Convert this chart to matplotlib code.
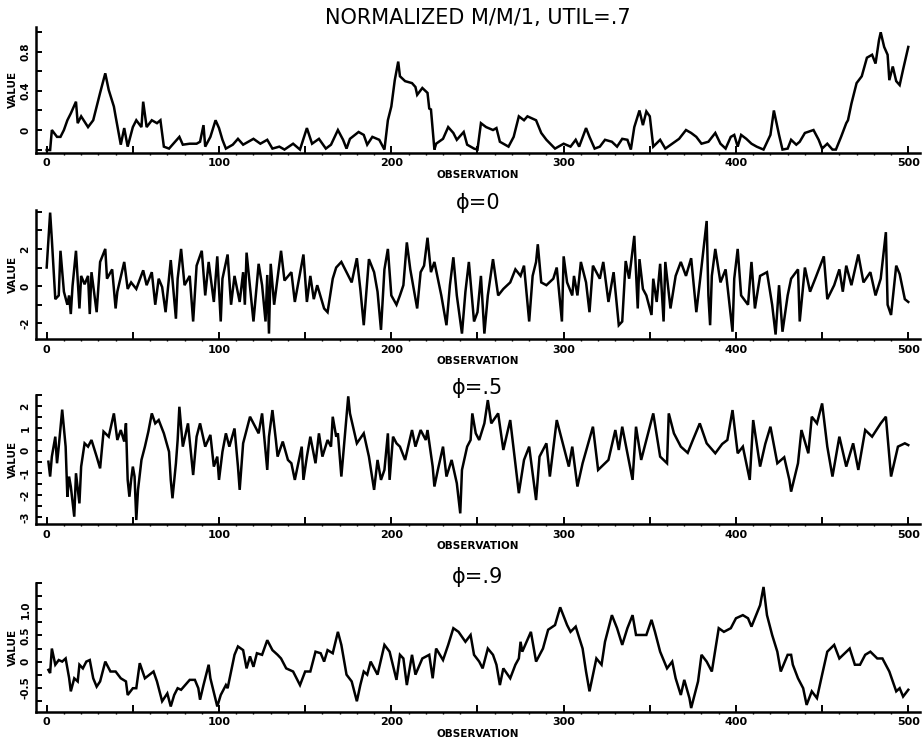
import matplotlib
matplotlib.use("Agg")
import matplotlib.pyplot as plt
from matplotlib.ticker import FixedLocator, FixedFormatter, MultipleLocator

# ---------------- data ----------------
mm1_obs = [0, 2, 3, 6, 8, 10, 12, 14, 17, 18, 20, 24, 27, 31, 34, 36, 39, 40, 42, 43, 45, 47, 50, 52, 55, 56, 58,
           61, 64, 66, 68, 71, 73, 77, 79, 83, 87, 89, 91, 92, 95, 98, 100, 102, 104, 108, 111, 114, 120, 124, 128,
           131, 135, 138, 143, 147, 151, 154, 158, 162, 165, 169, 172, 174, 176, 181, 184, 186, 189, 193, 196, 198,
           200, 202, 204, 205, 208, 212, 214, 215, 218, 221, 222, 223, 225, 226, 230, 233, 236, 238, 242, 244, 248,
           250, 252, 255, 259, 261, 263, 268, 271, 274, 277, 279, 284, 287, 290, 295, 300, 304, 307, 309, 313, 315,
           318, 321, 324, 328, 331, 334, 337, 339, 341, 344, 346, 348, 350, 352, 356, 359, 363, 367, 371, 374, 377,
           380, 384, 388, 391, 394, 397, 399, 401, 403, 406, 409, 412, 416, 420, 422, 425, 427, 430, 432, 435, 437,
           440, 445, 448, 450, 453, 456, 458, 461, 464, 465, 467, 470, 473, 476, 479, 481, 483, 484, 486, 488, 489,
           491, 493, 495, 497, 500]
mm1_val = [-0.205, -0.205, 0.0, -0.07, -0.07, 0.0, 0.10, 0.17, 0.29, 0.07, 0.14, 0.03, 0.10, 0.38, 0.58, 0.41,
           0.24, 0.14, -0.05, -0.15, 0.02, -0.17, 0.03, 0.10, 0.03, 0.29, 0.03, 0.10, 0.07, 0.10, -0.17, -0.19,
           -0.15, -0.07, -0.15, -0.14, -0.14, -0.12, 0.05, -0.17, -0.07, 0.10, 0.02, -0.10, -0.19, -0.15, -0.09,
           -0.15, -0.09, -0.14, -0.10, -0.19, -0.17, -0.20, -0.14, -0.20, 0.02, -0.14, -0.09, -0.19, -0.15, 0.0,
           -0.10, -0.19, -0.09, -0.02, -0.05, -0.15, -0.07, -0.10, -0.20, 0.10, 0.24, 0.51, 0.70, 0.55, 0.50, 0.48,
           0.44, 0.36, 0.43, 0.38, 0.22, 0.21, -0.20, -0.14, -0.09, 0.03, -0.03, -0.10, -0.02, -0.15, -0.19, -0.20,
           0.07, 0.03, 0.0, 0.02, -0.12, -0.17, -0.07, 0.14, 0.10, 0.14, 0.10, -0.03, -0.10, -0.19, -0.14, -0.17,
           -0.10, -0.17, 0.02, -0.07, -0.19, -0.17, -0.10, -0.12, -0.17, -0.09, -0.10, -0.20, 0.03, 0.20, 0.05,
           0.19, 0.14, -0.17, -0.10, -0.19, -0.14, -0.09, 0.0, -0.03, -0.07, -0.14, -0.12, -0.03, -0.14, -0.19,
           -0.07, -0.05, -0.17, -0.05, -0.09, -0.14, -0.17, -0.20, -0.05, 0.20, -0.05, -0.20, -0.19, -0.10, -0.15,
           -0.12, -0.03, 0.0, -0.10, -0.19, -0.14, -0.20, -0.20, -0.07, 0.07, 0.10, 0.27, 0.48, 0.55, 0.74, 0.77,
           0.68, 0.92, 1.0, 0.85, 0.77, 0.51, 0.65, 0.50, 0.46, 0.62, 0.85]

phi0_obs = [0, 2, 3, 5, 7, 8, 10, 12, 13, 14, 15, 17, 19, 20, 22, 24, 25, 26, 29, 31, 34, 35, 38, 40, 41, 45, 47,
            49, 52, 56, 58, 61, 63, 65, 67, 69, 72, 75, 76, 78, 80, 83, 85, 87, 90, 92, 94, 97, 99, 101, 102, 105,
            107, 109, 112, 114, 115, 116, 120, 123, 125, 127, 128, 129, 130, 132, 136, 138, 142, 144, 149, 151, 153,
            155, 157, 161, 163, 166, 168, 171, 174, 177, 180, 182, 184, 187, 190, 192, 194, 196, 198, 200, 203, 205,
            207, 209, 211, 215, 217, 219, 221, 223, 225, 229, 232, 234, 236, 238, 241, 243, 245, 248, 250, 252, 254,
            256, 259, 262, 265, 269, 272, 275, 277, 280, 282, 284, 285, 287, 290, 294, 296, 299, 300, 302, 305, 306,
            308, 310, 313, 315, 317, 319, 321, 323, 326, 329, 332, 334, 336, 338, 341, 342, 343, 344, 346, 348, 351,
            352, 354, 356, 358, 359, 362, 365, 368, 371, 374, 377, 379, 383, 384, 385, 386, 388, 391, 394, 398, 399,
            401, 403, 407, 409, 411, 414, 418, 421, 423, 425, 427, 430, 432, 436, 437, 440, 443, 446, 451, 453, 457,
            460, 462, 464, 467, 471, 474, 478, 481, 484, 487, 488, 490, 493, 495, 498, 500]
phi0_val = [1.0, 3.95, 2.5, -0.7, -0.5, 1.9, -0.3, -1.0, -0.5, -1.5, 0.0, 1.9, -1.2, 0.55, 0.1, 0.55, -1.5, 0.75,
            -1.4, 1.3, 2.0, 0.4, 0.9, -1.2, -0.3, 1.3, -0.15, 0.2, -0.15, 0.85, 0.05, 0.75, -1.0, 0.4, -0.05, -1.4,
            1.4, -1.75, 0.4, 2.0, 0.05, 0.55, -1.9, 1.1, 1.9, -0.5, 1.3, -0.85, 1.6, -1.9, 0.4, 1.7, -1.0, 0.55,
            -0.85, 0.75, -1.0, 1.8, -1.9, 1.2, 0.05, -1.9, 0.6, -2.55, 1.2, -1.0, 1.9, 0.3, 0.75, -0.85, 1.7, -0.85,
            0.55, -0.7, 0.05, -1.2, -1.4, 0.4, 1.0, 1.3, 0.75, 0.2, 1.5, -0.15, -2.1, 1.45, 0.75, -0.3, -2.35, 0.9,
            2.0, -0.5, -1.0, -0.5, 0.05, 2.35, 0.9, -1.2, 0.75, 1.1, 2.6, 0.75, 1.3, -0.5, -2.1, 0.05, 1.55, -0.5,
            -2.55, -0.3, 1.3, -1.9, -1.4, 0.55, -2.55, -0.5, 1.45, -0.5, -0.15, 0.2, 0.9, 0.55, 1.1, -1.9, 0.55,
            1.3, 2.25, 0.2, 0.05, 0.4, 1.0, -1.9, 1.6, 0.2, -0.5, 0.55, -0.5, 1.3, 0.2, -1.4, 1.1, 0.75, 0.4, 1.3,
            -0.85, 0.75, -2.1, -1.9, 1.35, 0.4, 2.7, 0.75, -1.2, 1.45, -0.15, -0.5, -1.55, 0.4, -0.85, 1.2, -1.9,
            1.3, -1.2, 0.55, 1.3, 0.55, 1.5, -1.4, 0.2, 3.5, -0.5, -2.1, 0.55, 2.0, 0.2, 0.9, -2.45, 0.4, 2.0, -0.5,
            -1.0, 1.3, -1.2, 0.55, 0.75, -1.0, -2.6, 0.05, -2.45, -0.5, 0.4, 0.9, -1.9, 1.0, -0.3, 0.4, 1.6, -0.7,
            0.05, 0.9, -0.3, 1.1, 0.05, 1.7, 0.2, 0.75, -0.5, 0.4, 2.9, -1.0, -1.55, 1.1, 0.65, -0.7, -0.85]

phi5_obs = [1, 2, 3, 5, 6, 7, 9, 11, 12, 13, 14, 16, 17, 19, 20, 22, 24, 26, 29, 31, 33, 36, 39, 41, 43, 45, 46,
            47, 48, 49, 50, 51, 52, 53, 55, 57, 59, 61, 63, 65, 68, 71, 72, 73, 75, 76, 77, 79, 82, 85, 87, 89, 92,
            95, 97, 99, 100, 102, 104, 106, 109, 111, 112, 114, 116, 118, 120, 123, 125, 128, 129, 131, 133, 134,
            137, 140, 142, 144, 148, 149, 151, 153, 156, 158, 160, 163, 165, 166, 168, 169, 171, 175, 176, 180, 184,
            187, 190, 192, 194, 196, 198, 199, 201, 203, 205, 208, 212, 214, 217, 220, 221, 224, 225, 227, 230, 232,
            235, 238, 240, 241, 244, 246, 247, 249, 251, 254, 256, 258, 262, 265, 269, 274, 277, 280, 284, 286, 290,
            292, 296, 300, 303, 305, 308, 311, 317, 320, 324, 326, 330, 332, 334, 340, 342, 345, 352, 356, 360, 361,
            364, 368, 372, 375, 379, 383, 388, 392, 395, 398, 401, 404, 408, 410, 414, 417, 420, 424, 428, 431, 432,
            436, 438, 442, 444, 447, 450, 453, 456, 460, 464, 468, 471, 475, 479, 484, 487, 490, 494, 498, 500]
phi5_val = [-0.5, -1.17, -0.27, 0.63, -0.57, 0.18, 1.85, 0.18, -2.08, -1.17, -1.62, -2.98, -1.02, -2.38, -0.72,
            0.33, 0.18, 0.48, -0.27, -0.8, 0.86, 0.63, 1.68, 0.48, 0.93, 0.41, 1.23, -1.32, -2.08, -1.32, -0.72,
            -1.17, -3.13, -1.77, -0.42, 0.18, 0.86, 1.68, 1.23, 1.38, 0.78, -0.05, -1.32, -2.15, -0.57, 0.48, 1.98,
            0.18, 1.23, -1.1, 0.63, 1.23, 0.18, 0.71, -0.72, -0.27, -1.32, -0.05, 0.78, 0.18, 1.0, -0.72, -1.77,
            0.33, 0.93, 1.53, 1.23, 0.78, 1.68, -0.87, 0.63, 1.83, 0.48, -0.27, 0.41, -0.42, -0.57, -1.32, 0.18,
            -1.32, -0.27, 0.63, -0.57, 0.78, -0.27, 0.48, 0.18, 1.53, 0.63, 0.78, -1.17, 2.45, 1.68, 0.33, 0.78,
            -0.27, -1.77, -0.42, -1.32, -0.87, 0.78, -1.32, 0.63, 0.33, 0.18, -0.42, 0.93, 0.18, 0.93, 0.48, 0.93,
            -0.72, -1.62, -0.87, 0.18, -1.17, -0.42, -1.47, -2.83, -0.87, 0.18, 0.48, 1.68, 0.78, 0.48, 1.23, 2.28,
            1.23, 1.68, 0.03, 1.38, -1.92, -0.42, 0.18, -2.23, -0.27, 0.33, -1.17, 1.38, 0.18, -0.72, 0.18, -1.62,
            -0.57, 1.08, -0.87, -0.57, -0.42, 0.93, 0.03, 1.08, -1.32, 1.08, -0.42, 1.68, -0.27, -0.57, 1.68, 0.78,
            0.18, -0.1, 0.48, 1.23, 0.33, -0.12, 0.3, 0.48, 1.83, -0.12, 0.18, -1.32, 1.38, -0.72, 0.3, 1.08, -0.57,
            -0.3, -1.32, -1.85, -0.57, 0.93, -0.12, 1.53, 1.23, 2.13, 0.18, -1.17, 0.63, -0.72, 0.33, -0.87, 0.93,
            0.63, 1.23, 1.53, -1.17, 0.18, 0.33, 0.25]

phi9_obs = [1, 2, 3, 5, 7, 9, 11, 13, 14, 16, 18, 19, 21, 23, 25, 27, 29, 31, 34, 37, 40, 43, 46, 47, 50, 52, 54,
            57, 62, 64, 67, 70, 72, 74, 76, 78, 83, 86, 88, 89, 91, 94, 95, 99, 101, 104, 105, 107, 109, 111, 114,
            116, 118, 120, 122, 125, 128, 131, 134, 136, 139, 143, 147, 150, 153, 156, 159, 161, 163, 166, 169, 171,
            174, 177, 180, 182, 184, 186, 188, 192, 196, 199, 203, 205, 207, 209, 212, 214, 218, 222, 224, 226, 230,
            233, 236, 239, 243, 246, 248, 251, 253, 256, 259, 261, 263, 265, 269, 272, 274, 275, 276, 281, 284, 288,
            291, 295, 298, 302, 304, 307, 311, 313, 315, 317, 319, 322, 324, 328, 331, 334, 337, 340, 342, 348, 351,
            353, 356, 360, 363, 365, 368, 370, 373, 374, 378, 380, 383, 386, 390, 393, 397, 400, 404, 407, 409, 414,
            416, 418, 421, 424, 426, 430, 432, 433, 436, 439, 441, 444, 447, 450, 453, 457, 460, 466, 469, 472, 475,
            478, 482, 485, 489, 491, 493, 495, 497, 500]
phi9_val = [-0.16, -0.22, 0.25, -0.06, 0.03, 0.0, 0.06, -0.31, -0.57, -0.32, -0.38, -0.06, -0.13, 0.0, 0.03,
            -0.32, -0.48, -0.38, 0.0, -0.19, -0.19, -0.32, -0.38, -0.64, -0.51, -0.51, -0.03, -0.32, -0.19, -0.38,
            -0.76, -0.61, -0.86, -0.64, -0.51, -0.54, -0.35, -0.35, -0.51, -0.73, -0.45, -0.06, -0.32, -0.86, -0.64,
            -0.45, -0.51, -0.19, 0.13, 0.29, 0.22, -0.13, 0.1, -0.1, 0.16, 0.13, 0.41, 0.22, 0.13, 0.06, -0.13,
            -0.19, -0.45, -0.19, -0.19, 0.19, 0.16, 0.0, 0.22, 0.16, 0.57, 0.32, -0.25, -0.38, -0.76, -0.45, -0.19,
            -0.25, 0.0, -0.25, 0.32, 0.19, -0.35, 0.13, 0.06, -0.45, 0.13, -0.25, 0.06, 0.13, -0.32, 0.25, 0.03,
            0.32, 0.64, 0.57, 0.38, 0.51, 0.13, 0.0, -0.13, 0.25, 0.13, -0.06, -0.45, -0.13, -0.32, -0.06, 0.06,
            0.38, 0.19, 0.57, 0.0, 0.25, 0.61, 0.70, 1.04, 0.70, 0.57, 0.67, 0.25, -0.19, -0.57, -0.25, 0.06, -0.06,
            0.38, 0.89, 0.64, 0.32, 0.64, 0.89, 0.51, 0.51, 0.80, 0.57, 0.19, -0.13, 0.0, -0.32, -0.64, -0.35,
            -0.70, -0.89, -0.38, 0.13, 0.0, -0.19, 0.64, 0.57, 0.64, 0.83, 0.89, 0.83, 0.67, 1.08, 1.43, 0.89, 0.51,
            0.19, -0.19, 0.13, 0.13, -0.06, -0.32, -0.51, -0.83, -0.57, -0.70, -0.25, 0.19, 0.32, 0.06, 0.25, -0.06,
            -0.06, 0.13, 0.19, 0.06, 0.06, -0.19, -0.38, -0.57, -0.51, -0.67, -0.54]

titles = ["NORMALIZED M/M/1, UTIL=.7", "\u03d5=0", "\u03d5=.5", "\u03d5=.9"]
x_label = "OBSERVATION"
y_label = "VALUE"
y_tick_pos = [[-0.2, 0.0, 0.2, 0.4, 0.6, 0.8, 1.0],
              [-2, -1, 0, 1, 2, 3, 4],
              [-3, -2.5, -2, -1.5, -1, -0.5, 0, 0.5, 1, 1.5, 2, 2.5],
              [-0.75, -0.5, -0.25, 0, 0.25, 0.5, 0.75, 1.0, 1.25, 1.5]]
y_tick_lab = [["", "0", "", "0.4", "", "0.8", ""],
              ["-2", "", "0", "", "2", "", ""],
              ["-3", "", "-2", "", "-1", "", "0", "", "1", "", "2", ""],
              ["", "-0.5", "", "0", "", "0.5", "", "1.0", "", ""]]
y_lims = [(-0.232, 1.054), (-2.84, 4.09), (-3.31, 2.51), (-0.96, 1.5)]

series = [(mm1_obs, mm1_val), (phi0_obs, phi0_val), (phi5_obs, phi5_val), (phi9_obs, phi9_val)]

# ---------------- layout (pixel geometry) ----------------
W, H = 924, 743
fig = plt.figure(figsize=(W / 100, H / 100), dpi=100)
panel_px = [(27, 152.7), (210, 339), (395, 524), (583.3, 711.7)]
title_y = [18, 203, 388, 577]
left_px, right_px = 36, 920

for i, ((top, bot), (xs, ys)) in enumerate(zip(panel_px, series)):
    ax = fig.add_axes([left_px / W, 1 - bot / H, (right_px - left_px) / W, (bot - top) / H])
    ax.plot(xs, ys, color="black", lw=1.8, solid_joinstyle="miter")
    ax.set_xlim(-6.2, 506.8)
    ax.set_ylim(*y_lims[i])
    for s in ["top", "right"]:
        ax.spines[s].set_visible(False)
    for s in ["left", "bottom"]:
        ax.spines[s].set_linewidth(1.8)
    ax.xaxis.set_major_locator(FixedLocator([0, 50, 100, 150, 200, 250, 300, 350, 400, 450, 500]))
    ax.xaxis.set_major_formatter(FixedFormatter(["0", "", "100", "", "200", "", "300", "", "400", "", "500"]))
    ax.xaxis.set_minor_locator(MultipleLocator(10))
    ax.tick_params(axis="x", which="major", direction="in", length=5, width=1.4, pad=4, labelsize=8)
    ax.tick_params(axis="x", which="minor", direction="out", length=1.5, width=1.0)
    ax.yaxis.set_major_locator(FixedLocator(y_tick_pos[i]))
    ax.yaxis.set_major_formatter(FixedFormatter(y_tick_lab[i]))
    ax.tick_params(axis="y", which="major", direction="in", length=4, width=1.4, pad=4, labelsize=7.5)
    for lab in ax.get_yticklabels():
        lab.set_rotation(90)
        lab.set_va("center")
        lab.set_fontweight("bold")
    for lab in ax.get_xticklabels():
        lab.set_fontweight("bold")
    ax.set_xlabel(x_label, fontsize=7.5, fontweight="bold", labelpad=1)
    ax.set_ylabel(y_label, fontsize=7.5, fontweight="bold", labelpad=2)
    fig.text(478 / W, 1 - title_y[i] / H, titles[i], ha="center", va="center", fontsize=15,
             family="DejaVu Sans")

fig.savefig("out.png", dpi=100)
